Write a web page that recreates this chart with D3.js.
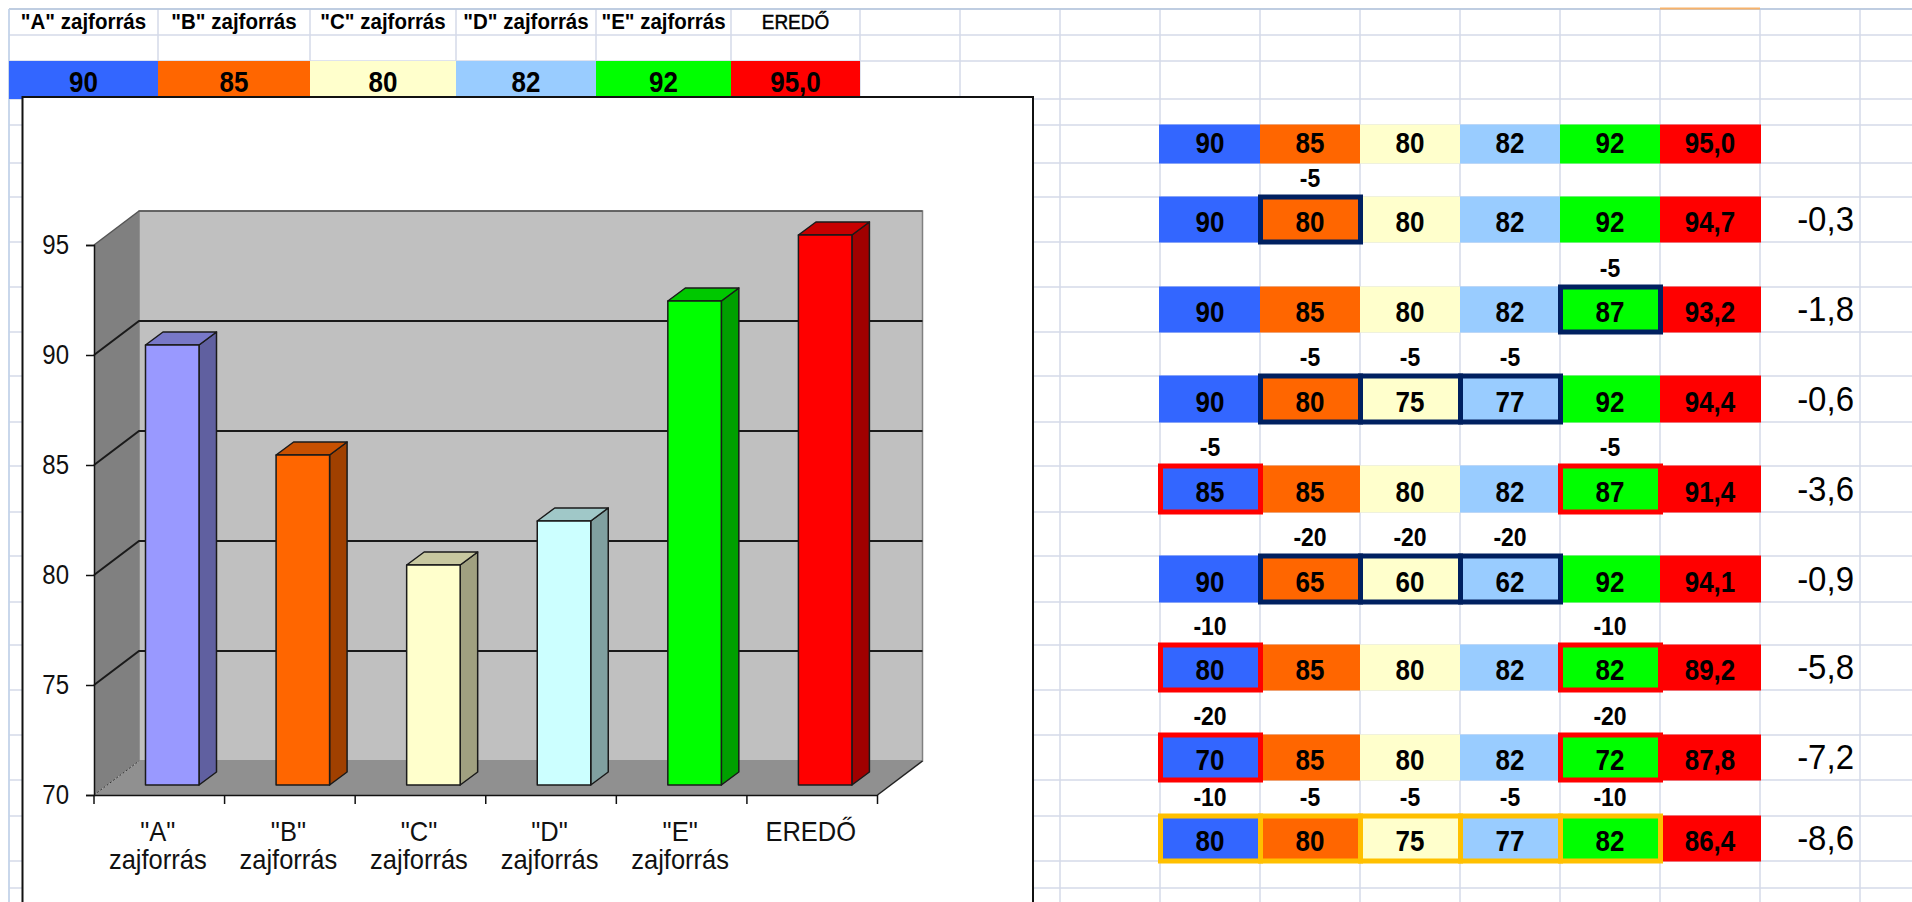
<!DOCTYPE html>
<html lang="hu">
<head>
<meta charset="utf-8">
<script src="https://cdn.jsdelivr.net/npm/d3@7"></script>
<style>
    body { margin: 0; background: #fff; }
    svg { display: block; font-family: "Liberation Sans", Arial, sans-serif; }
</style>
</head>

<body>
<div id="svg"></div>

<script>
    // chart + first table row
    var categories = ['"A" zajforrás', '"B" zajforrás', '"C" zajforrás', '"D" zajforrás', '"E" zajforrás', 'EREDŐ'];
    var levels = [90, 85, 80, 82, 92, 95.0];
    var yTicks = [70, 75, 80, 85, 90, 95];

    // table on the right, one line per scenario
    var sourceRows = [
        [90, 85, 80, 82, 92],
        [90, 80, 80, 82, 92],
        [90, 85, 80, 82, 87],
        [90, 80, 75, 77, 92],
        [85, 85, 80, 82, 87],
        [90, 65, 60, 62, 92],
        [80, 85, 80, 82, 82],
        [70, 85, 80, 82, 72],
        [80, 80, 75, 77, 82]
    ];
    var deltaRows = [
        [null, null, null, null, null],
        [null, -5, null, null, null],
        [null, null, null, null, -5],
        [null, -5, -5, -5, null],
        [-5, null, null, null, -5],
        [null, -20, -20, -20, null],
        [-10, null, null, null, -10],
        [-20, null, null, null, -20],
        [-10, -5, -5, -5, -10]
    ];
    var resultLevels = [95.0, 94.7, 93.2, 94.4, 91.4, 94.1, 89.2, 87.8, 86.4];
    var resultChanges = [null, -0.3, -1.8, -0.6, -3.6, -0.9, -5.8, -7.2, -8.6];

    // styles and sheet layout
    var cellColors = ["#3366FF", "#FF6600", "#FFFFCC", "#99CCFF", "#00FF00", "#FF0000"];
    var frameColors = [null, "#002060", "#002060", "#002060", "#FF0000", "#002060", "#FF0000", "#FF0000", "#FFC000"];
    var barColors = [
        {front: "#9999FF", top: "#7878C8", side: "#6060A0"},
        {front: "#FF6600", top: "#C85000", side: "#A04000"},
        {front: "#FFFFCC", top: "#C8C8A0", side: "#A0A080"},
        {front: "#CCFFFF", top: "#A0C8C8", side: "#80A0A0"},
        {front: "#00FF00", top: "#00C800", side: "#00A000"},
        {front: "#FF0000", top: "#C80000", side: "#A00000"}
    ];
    var gridX = [9, 158, 310, 456, 596, 731, 860, 960, 1060, 1160, 1260, 1360, 1460, 1560, 1660, 1760, 1860];
    var gridY = [9, 35, 61, 99, 125, 163, 197, 242, 287, 332, 376, 422, 466, 512, 556, 602, 645, 690, 735, 780, 816, 861, 888];
    var topCols = gridX.slice(0, 7);
    var tableCols = gridX.slice(9, 16);

    var width = 1912, height = 902;

    var svg = d3.select("#svg").append("svg")
        .attr("width", width)
        .attr("height", height);

    function comma(v) { return v.toFixed(1).replace(".", ","); }

    // the screenshot is stretched a bit in height, do the same to the text
    function tall(sel, k) {
        sel.attr("transform", function(){
            var yy = +d3.select(this).attr("y") || 0;
            return "translate(0," + (yy * (1 - k)) + ") scale(1," + k + ")";
        });
    }

    // --------------------------------------------------
    // sheet grid

    svg.selectAll("line.gv").data(gridX).enter().append("line")
        .attr("x1", function(d){ return d; }).attr("x2", function(d){ return d; })
        .attr("y1", 9).attr("y2", height)
        .style("stroke", "#D4DAE8").style("stroke-width", 1.5);

    svg.selectAll("line.gh").data(gridY).enter().append("line")
        .attr("x1", 9).attr("x2", width)
        .attr("y1", function(d){ return d; }).attr("y2", function(d){ return d; })
        .style("stroke", "#D4DAE8").style("stroke-width", 1.5);

    svg.append("line").attr("x1", 9).attr("x2", width).attr("y1", 9).attr("y2", 9)
        .style("stroke", "#B4C6DC").style("stroke-width", 1.5);
    svg.append("line").attr("x1", 9).attr("x2", 9).attr("y1", 9).attr("y2", height)
        .style("stroke", "#C2D3EA").style("stroke-width", 1.5);
    svg.append("line").attr("x1", 1660).attr("x2", 1760).attr("y1", 8.5).attr("y2", 8.5)
        .style("stroke", "#F6B26B").style("stroke-width", 2);

    // --------------------------------------------------
    // top row: header + values

    svg.selectAll("text.head").data(categories).enter().append("text")
        .attr("x", function(d, i){ return (topCols[i] + topCols[i + 1]) / 2; })
        .attr("y", 29)
        .attr("text-anchor", "middle")
        .style("font-size", function(d, i){ return i < 5 ? "20.5px" : "19px"; })
        .style("font-weight", function(d, i){ return i < 5 ? "bold" : "normal"; })
        .style("stroke", function(d, i){ return i < 5 ? "none" : "#000"; })
        .style("stroke-width", 0.4)
        .text(function(d){ return d; })
        .call(tall, 1.1);

    svg.selectAll("rect.topcell").data(levels).enter().append("rect")
        .attr("x", function(d, i){ return topCols[i]; })
        .attr("width", function(d, i){ return topCols[i + 1] - topCols[i]; })
        .attr("y", gridY[2]).attr("height", gridY[3] - gridY[2])
        .style("fill", function(d, i){ return cellColors[i]; });

    svg.selectAll("text.topval").data(levels).enter().append("text")
        .attr("x", function(d, i){ return (topCols[i] + topCols[i + 1]) / 2; })
        .attr("y", 92)
        .attr("text-anchor", "middle")
        .style("font-size", "26px").style("font-weight", "bold")
        .text(function(d, i){ return i == 5 ? comma(d) : d; })
        .call(tall, 1.15);

    // --------------------------------------------------
    // 3d column chart

    var chart = {left: 22.5, top: 97, right: 1033},
        depth = {x: 45, y: 34},       // whole floor
        barShift = {x: 51.5, y: 10},  // front of a bar inside its band
        barDepth = {x: 17.5, y: 13},
        barWidth = 53.5;

    svg.append("rect")
        .attr("x", chart.left).attr("y", chart.top)
        .attr("width", chart.right - chart.left).attr("height", height - chart.top + 5)
        .style("fill", "#fff").style("stroke", "#111").style("stroke-width", 2);

    var x = d3.scaleBand().domain(categories).range([94, 877.5]);
    var y = d3.scaleLinear().domain([70, 95]).range([795, 245]);

    var x0 = x.range()[0], x1 = x.range()[1],
        yBase = y(70), yTop = y(95);

    function poly(pts) { return pts.map(function(p){ return p.join(","); }).join(" "); }

    // left wall, back wall, floor
    svg.append("polygon")
        .attr("points", poly([[x0, yTop], [x0 + depth.x, yTop - depth.y], [x0 + depth.x, yBase - depth.y], [x0, yBase]]))
        .style("fill", "#808080");
    svg.append("rect")
        .attr("x", x0 + depth.x).attr("y", yTop - depth.y)
        .attr("width", x1 - x0).attr("height", yBase - yTop)
        .style("fill", "#C0C0C0").style("stroke", "#808080").style("stroke-width", 1.5);
    svg.append("polygon")
        .attr("points", poly([[x0, yBase], [x0 + depth.x, yBase - depth.y], [x1 + depth.x, yBase - depth.y], [x1, yBase]]))
        .style("fill", "#909090");
    svg.append("line")
        .attr("x1", x0).attr("y1", yBase).attr("x2", x0 + depth.x).attr("y2", yBase - depth.y)
        .style("stroke", "#333").style("stroke-width", 1).style("stroke-dasharray", "2,2");
    svg.append("line")
        .attr("x1", x0 + depth.x).attr("y1", yTop - depth.y).attr("x2", x1 + depth.x).attr("y2", yTop - depth.y)
        .style("stroke", "#555").style("stroke-width", 1.5);
    svg.append("line")
        .attr("x1", x0).attr("y1", yTop).attr("x2", x0 + depth.x).attr("y2", yTop - depth.y)
        .style("stroke", "#555").style("stroke-width", 1.5);

    // gridlines go round the left wall and along the back
    var gridVals = yTicks.filter(function(d){ return d > 70 && d < 95; });
    svg.selectAll("polyline.grid").data(gridVals).enter().append("polyline")
        .attr("points", function(d){
            return poly([[x0, y(d)], [x0 + depth.x, y(d) - depth.y], [x1 + depth.x, y(d) - depth.y]]);
        })
        .style("fill", "none").style("stroke", "#1a1a1a").style("stroke-width", 2);

    // floor edge at the right + base line
    svg.append("line")
        .attr("x1", x1).attr("y1", yBase).attr("x2", x1 + depth.x).attr("y2", yBase - depth.y)
        .style("stroke", "#222").style("stroke-width", 1.5);

    var bars = svg.selectAll("g.bar")
        .data(levels)
    .enter().append("g")
        .attr("class", "bar");

    function barBox(d, i) {
        var l = x(categories[i]) + barShift.x;
        return {l: l, r: l + barWidth, t: y(d) - barShift.y, b: yBase - barShift.y};
    }

    bars.append("polygon")
        .attr("points", function(d, i){
            var b = barBox(d, i);
            return poly([[b.r, b.t], [b.r + barDepth.x, b.t - barDepth.y], [b.r + barDepth.x, b.b - barDepth.y], [b.r, b.b]]);
        })
        .style("fill", function(d, i){ return barColors[i].side; });
    bars.append("polygon")
        .attr("points", function(d, i){
            var b = barBox(d, i);
            return poly([[b.l, b.t], [b.l + barDepth.x, b.t - barDepth.y], [b.r + barDepth.x, b.t - barDepth.y], [b.r, b.t]]);
        })
        .style("fill", function(d, i){ return barColors[i].top; });
    bars.append("rect")
        .attr("x", function(d, i){ return barBox(d, i).l; })
        .attr("y", function(d, i){ return barBox(d, i).t; })
        .attr("width", barWidth)
        .attr("height", function(d, i){ var b = barBox(d, i); return b.b - b.t; })
        .style("fill", function(d, i){ return barColors[i].front; });
    bars.selectAll("polygon, rect")
        .style("stroke", "#1a1a1a").style("stroke-width", 1.5).style("stroke-linejoin", "round");

    // axes
    var yAxis = svg.append("g")
        .attr("transform", "translate(" + x0 + ",0)")
        .call(d3.axisLeft(y).tickValues(yTicks).tickSize(8).tickPadding(17));
    yAxis.selectAll("text").style("font-size", "24px").style("fill", "#111").style("font-family", "inherit")
        .attr("dy", ".3em").attr("y", 0)
        .call(tall, 1.12);
    yAxis.selectAll("line, path").style("stroke", "#111").style("stroke-width", 1.5);

    var xAxis = svg.append("g")
        .attr("transform", "translate(0," + yBase + ")")
        .call(d3.axisBottom(x).tickSize(0).tickPadding(0));
    xAxis.select("path").style("stroke", "#111").style("stroke-width", 1.5);
    xAxis.selectAll("text").remove();
    xAxis.selectAll(".tick").each(function(d){
        var parts = d.split(" ");
        d3.select(this).selectAll("text").data(parts).enter().append("text")
            .attr("x", -1.5)
            .attr("y", function(p, k){ return 46 + 28 * k; })
            .attr("text-anchor", "middle")
            .style("font-size", "25.5px").style("fill", "#111").style("font-family", "Liberation Sans")
            .text(function(p){ return p; })
            .call(tall, 1.08);
    });

    svg.selectAll("line.xtick").data(d3.range(categories.length + 1)).enter().append("line")
        .attr("x1", function(d){ return x0 + d * x.step(); })
        .attr("x2", function(d){ return x0 + d * x.step(); })
        .attr("y1", yBase).attr("y2", yBase + 9)
        .style("stroke", "#111").style("stroke-width", 1.5);

    // --------------------------------------------------
    // table on the right

    var rows = svg.selectAll("g.row")
        .data(sourceRows)
    .enter().append("g")
        .attr("class", "row");

    function rowTop(i) { return gridY[4 + 2 * i]; }
    function rowBottom(i) { return gridY[5 + 2 * i]; }
    function colMid(j) { return (tableCols[j] + tableCols[j + 1]) / 2; }

    rows.each(function(vals, i){
        var g = d3.select(this);
        var cells = vals.concat([resultLevels[i]]);

        g.selectAll("rect").data(cells).enter().append("rect")
            .attr("x", function(d, j){ return tableCols[j] - (j == 0 ? 1 : 0); })
            .attr("width", function(d, j){ return tableCols[j + 1] - tableCols[j] + (j == 0 || j == 5 ? 1 : 0); })
            .attr("y", rowTop(i) - 0.5).attr("height", rowBottom(i) - rowTop(i) + 1)
            .style("fill", function(d, j){ return cellColors[j]; });
    });

    // frames above all the fills
    rows.each(function(vals, i){
        d3.select(this).selectAll("rect.frame")
            .data(deltaRows[i].map(function(d, j){ return {d: d, j: j}; }).filter(function(c){ return c.d !== null; }))
        .enter().append("rect")
            .attr("class", "frame")
            .attr("x", function(c){ return tableCols[c.j] + 0.5; })
            .attr("width", function(c){ return tableCols[c.j + 1] - tableCols[c.j]; })
            .attr("y", rowTop(i)).attr("height", rowBottom(i) - rowTop(i))
            .style("fill", "none")
            .style("stroke", frameColors[i]).style("stroke-width", 5);
    });

    rows.each(function(vals, i){
        var g = d3.select(this);
        var cells = vals.concat([resultLevels[i]]);

        g.selectAll("text.val").data(cells).enter().append("text")
            .attr("class", "val")
            .attr("x", function(d, j){ return colMid(j); })
            .attr("y", rowBottom(i) - 10)
            .attr("text-anchor", "middle")
            .style("font-size", "26px").style("font-weight", "bold")
            .text(function(d, j){ return j == 5 ? comma(d) : d; })
            .call(tall, 1.15);

        g.selectAll("text.delta").data(deltaRows[i]).enter().append("text")
            .attr("class", "delta")
            .attr("x", function(d, j){ return colMid(j); })
            .attr("y", rowTop(i) - 10)
            .attr("text-anchor", "middle")
            .style("font-size", "23px").style("font-weight", "bold")
            .text(function(d){ return d === null ? "" : d; })
            .call(tall, 1.1);

        if (resultChanges[i] !== null) {
            g.append("text")
                .attr("x", 1854)
                .attr("y", rowBottom(i) - 11)
                .attr("text-anchor", "end")
                .style("font-size", "33px")
                .text(comma(resultChanges[i]))
                .call(tall, 1.05);
        }
    });
</script>
</body>
</html>
